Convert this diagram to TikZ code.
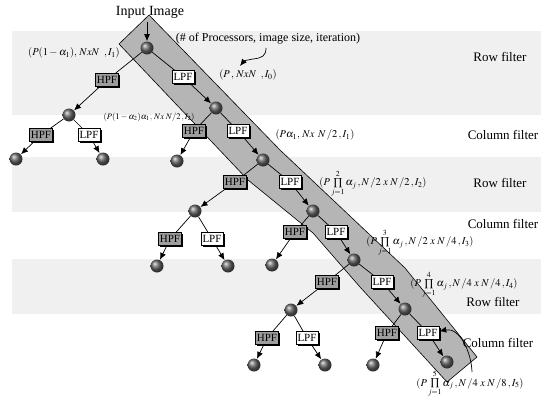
\documentclass[tikz,border=0pt]{standalone}
\usepackage{amsmath}
\usepackage{mathptmx}
\usepackage{fontspec}
\setmainfont{Liberation Serif}
\usepackage{tikz}
\usetikzlibrary{calc,shadows,arrows.meta}
\usepackage{xcolor}

\definecolor{stripe}{gray}{0.94}
\definecolor{lowpath}{gray}{0.71}
\definecolor{hpfgray}{gray}{0.62}
\tikzset{
  ball/.style={circle, inner sep=0pt, minimum size=13pt, shading=ball, ball color=gray!80!black},
  lpf/.style={draw, fill=white, line width=0.6pt, inner sep=1.5pt, minimum height=13pt,
    font=\fontsize{11}{11}\selectfont,
    general shadow={fill=black, shadow xshift=1.8pt, shadow yshift=-1.8pt}},
  hpf/.style={lpf, fill=hpfgray},
  arr/.style={-{Latex[length=7pt,width=6pt]}},
  lbl/.style={font=\fontsize{10.5}{10.5}\selectfont},
  side/.style={font=\fontsize{13}{13}\selectfont}
}

\begin{document}
\begin{tikzpicture}[x=1pt,y=-1pt,line width=0.7pt]
\useasboundingbox (0,0) rectangle (541,399);
% stripes, one per filter pass
\fill [stripe] (12,31) rectangle (541,115);
\fill [stripe] (12,157) rectangle (541,212);
\fill [stripe] (12,259) rectangle (541,314);
% the low-pass path
\filldraw [fill=lowpath, line width=0.6pt] (149,15) -- (280,150) -- (405,268) -- (477,357) -- (447,382) -- (360,287) -- (313,233) -- (248,180) -- (119,44) -- cycle;

% processors
\node [ball] (r0) at (147,48) {};
\node [ball] (h1) at (69,115) {};
\node [ball] (l1) at (216,108) {};
\node [ball] (hh) at (16,159) {};
\node [ball] (hl) at (103,159) {};
\node [ball] (lh) at (177,161) {};
\node [ball] (l2) at (263,160) {};
\node [ball] (m2) at (195,211) {};
\node [ball] (l3) at (313,211) {};
\node [ball] (mh) at (157,266) {};
\node [ball] (ml) at (228,266) {};
\node [ball] (l3h) at (272,265) {};
\node [ball] (l4) at (354,260) {};
\node [ball] (m4) at (291,310) {};
\node [ball] (l5) at (405,309) {};
\node [ball] (nh) at (254,365) {};
\node [ball] (nl) at (325,365) {};
\node [ball] (l5h) at (373,365) {};
\node [ball] (l6) at (447,362) {};

% filters
\node [hpf] (f1h) at (107,80) {HPF};
\node [lpf] (f1l) at (183,77) {LPF};
\node [hpf] (f2a) at (41,135) {HPF};
\node [lpf] (f2b) at (89,135) {LPF};
\node [hpf] (f2c) at (194,131) {HPF};
\node [lpf] (f2d) at (238,131) {LPF};
\node [hpf] (f3a) at (235,182) {HPF};
\node [lpf] (f3b) at (290,182) {LPF};
\node [hpf] (f4a) at (170,239) {HPF};
\node [lpf] (f4b) at (212,239) {LPF};
\node [hpf] (f4c) at (295,232) {HPF};
\node [lpf] (f4d) at (336,232) {LPF};
\node [hpf] (f5a) at (327,282) {HPF};
\node [lpf] (f5b) at (382,282) {LPF};
\node [hpf] (f6a) at (267,338) {HPF};
\node [lpf] (f6b) at (307,338) {LPF};
\node [hpf] (f6c) at (387,333) {HPF};
\node [lpf] (f6d) at (428,333) {LPF};

\draw (r0) -- (f1h); \draw [arr] (f1h) -- (h1);
\draw (r0) -- (f1l); \draw [arr] (f1l) -- (l1);
\draw (h1) -- (f2a); \draw [arr] (f2a) -- (hh);
\draw (h1) -- (f2b); \draw [arr] (f2b) -- (hl);
\draw (l1) -- (f2c); \draw [arr] (f2c) -- (lh);
\draw (l1) -- (f2d); \draw [arr] (f2d) -- (l2);
\draw (l2) -- (f3a); \draw [arr] (f3a) -- (m2);
\draw (l2) -- (f3b); \draw [arr] (f3b) -- (l3);
\draw (m2) -- (f4a); \draw [arr] (f4a) -- (mh);
\draw (m2) -- (f4b); \draw [arr] (f4b) -- (ml);
\draw (l3) -- (f4c); \draw [arr] (f4c) -- (l3h);
\draw (l3) -- (f4d); \draw [arr] (f4d) -- (l4);
\draw (l4) -- (f5a); \draw [arr] (f5a) -- (m4);
\draw (l4) -- (f5b); \draw [arr] (f5b) -- (l5);
\draw (m4) -- (f6a); \draw [arr] (f6a) -- (nh);
\draw (m4) -- (f6b); \draw [arr] (f6b) -- (nl);
\draw (l5) -- (f6c); \draw [arr] (f6c) -- (l5h);
\draw (l5) -- (f6d); \draw [arr] (f6d) -- (l6);

% input and legend
\node [font=\fontsize{14}{14}\selectfont] (inp) at (150,12) {Input Image};
\coordinate (inq) at (147,22);
\draw [arr] (inq) -- (r0);
\node [font=\fontsize{12}{12}\selectfont] (note) at (268,39) {(\# of Processors, image size, iteration)};
\coordinate (nq1) at (266,48);
\coordinate (nq2) at (240,66);
\draw [arr] (nq1) .. controls (266,56) and (262,58) .. (253,59) .. controls (247,60) and (244,61) .. (nq2);

% sizes
\node [lbl] (s0) at (248,75) {$(P\,,\,NxN\;\;,I_0)$};
\node [lbl] (s1) at (74,53) {$(P(1-\alpha_1),\,NxN\;\;,I_1)$};
\node [font=\fontsize{8.5}{8.5}\selectfont] (s2) at (149,117) {$(P(1-\alpha_2)\alpha_1,\,Nx\;N/2\,,I_2)$};
\node [lbl] (s3) at (315,135) {$(P\alpha_1,\,Nx\;\,N\,/2\,,I_1)$};
\node [lbl] (s4) at (373,184) {$(P\prod\limits_{j=1}^{2}\alpha_j\,,N\,/2\;x\;N\,/2\,,I_2)$};
\node [lbl] (s5) at (420,243) {$(P\prod\limits_{j=1}^{3}\alpha_j\,,N\,/2\;x\;N\,/4\,,I_3)$};
\node [lbl] (s6) at (464,285) {$(P\prod\limits_{j=1}^{4}\alpha_j\,,N\,/4\;x\;N\,/4\,,I_4)$};
\node [lbl] (s7) at (470,384) {$(P\prod\limits_{j=1}^{5}\alpha_j\,,N\,/4\;x\;N\,/8\,,I_5)$};

% passes
\node [side] (p1) at (500,57) {Row filter};
\node [side] (p2) at (503,135) {Column filter};
\node [side] (p3) at (500,183) {Row filter};
\node [side] (p4) at (503,224) {Column filter};
\node [side] (p5) at (493,302) {Row filter};
\node [side] (p6) at (498,343) {Column filter};
\coordinate (cq) at (472,372);
\draw [arr] (cq) to [out=92, in=10] (f6d);
\end{tikzpicture}
\end{document}
